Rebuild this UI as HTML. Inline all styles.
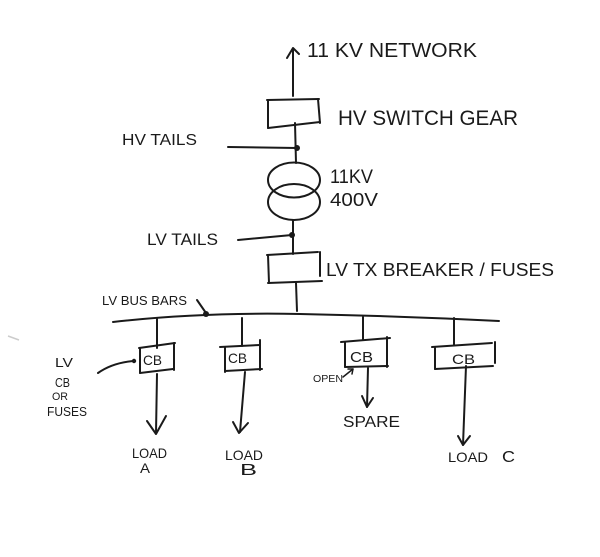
<!DOCTYPE html>
<html><head><meta charset="utf-8"><style>
html,body{margin:0;padding:0;background:#fff;}
svg{display:block;}
text{font-family:"Liberation Sans",sans-serif;fill:#1a1a1a;}
</style></head><body>
<svg width="600" height="557" viewBox="0 0 600 557" xmlns="http://www.w3.org/2000/svg">
<rect width="600" height="557" fill="#fff"/>
<g stroke="#1a1a1a" stroke-width="2" fill="none" stroke-linecap="round" stroke-linejoin="round">
<!-- top arrow -->
<path d="M293,96 L293,49"/>
<path d="M287,58 L293,48 L299,54"/>
<!-- HV switchgear box -->
<path d="M267,100 L319,99"/>
<path d="M268,100 L268,128"/>
<path d="M318,99 L320,123"/>
<path d="M268,128 L320,122"/>
<!-- line down to HV tails dot -->
<path d="M295,123 L296,163"/>
<path d="M228,147 L297,148"/>
<!-- transformer -->
<ellipse cx="294" cy="180" rx="26" ry="17.5"/>
<ellipse cx="294" cy="202" rx="26" ry="18"/>
<!-- line to LV box -->
<path d="M293,220 L293,254"/>
<path d="M238,240 L292,235"/>
<!-- LV TX box -->
<path d="M267,255 L318,252"/>
<path d="M268,255 L269,283"/>
<path d="M320,252 L320,276"/>
<path d="M268,283 L322,281"/>
<path d="M296,283 L297,311"/>
<!-- bus bar -->
<path d="M113,322 Q 200,312 300,314 T 499,321"/>
<path d="M197,300 L206,313"/>
<!-- drops -->
<path d="M157,319 L157,348"/>
<path d="M242,318 L242,346"/>
<path d="M363,317 L363,340"/>
<path d="M454,318 L454,345"/>
<!-- CB A -->
<path d="M139,348 L175,343"/>
<path d="M140,348 L140,373"/>
<path d="M174,343 L174,370"/>
<path d="M140,373 L173,369"/>
<!-- CB B -->
<path d="M220,347 L260,345"/>
<path d="M225,347 L225,372"/>
<path d="M260,340 L260,370"/>
<path d="M225,371 L262,369"/>
<!-- CB spare -->
<path d="M341,342 L390,338"/>
<path d="M345,342 L345,367"/>
<path d="M387,337 L387,367"/>
<path d="M345,367 L388,366"/>
<!-- CB C -->
<path d="M432,347 L492,343"/>
<path d="M435,348 L435,369"/>
<path d="M495,342 L495,363"/>
<path d="M435,369 L493,366"/>
<!-- load arrows -->
<path d="M157,374 L156,433"/>
<path d="M147,421 L156,434 L166,416"/>
<path d="M245,372 L240,432"/>
<path d="M233,422 L239,433 L248,423"/>
<path d="M368,368 L367,407"/>
<path d="M362,396 L367,407 L373,398"/>
<path d="M466,366 L463,445"/>
<path d="M458,436 L463,445 L470,436"/>
<!-- LV CB or fuses pointer -->
<path d="M98,373 Q 112,363 133,361"/>
<!-- open pointer -->
<path d="M343,377 L353,369" stroke-width="1.5"/>
<path d="M348,369 L353,369 L352,374" stroke-width="1.5"/>
</g>
<g fill="#1a1a1a">
<circle cx="297" cy="148" r="3"/>
<circle cx="292" cy="235" r="3"/>
<circle cx="206" cy="314" r="3"/>
<circle cx="134" cy="361" r="2.2"/>
</g>
<path d="M8,336 L19,340" stroke="#ccc" stroke-width="1.5" fill="none"/>
<!-- labels -->
<text x="307" y="57" font-size="20" textLength="170" lengthAdjust="spacingAndGlyphs">11 KV NETWORK</text>
<text x="338" y="125" font-size="21" textLength="180" lengthAdjust="spacingAndGlyphs">HV SWITCH GEAR</text>
<text x="122" y="145" font-size="16" textLength="75" lengthAdjust="spacingAndGlyphs">HV TAILS</text>
<text x="330" y="183" font-size="19" textLength="43" lengthAdjust="spacingAndGlyphs">11KV</text>
<text x="330" y="206" font-size="18" textLength="48" lengthAdjust="spacingAndGlyphs">400V</text>
<text x="147" y="245" font-size="17" textLength="71" lengthAdjust="spacingAndGlyphs">LV TAILS</text>
<text x="326" y="276" font-size="18" textLength="228" lengthAdjust="spacingAndGlyphs">LV TX BREAKER / FUSES</text>
<text x="102" y="305" font-size="13" textLength="85" lengthAdjust="spacingAndGlyphs">LV BUS BARS</text>
<text x="55" y="367" font-size="13" textLength="18" lengthAdjust="spacingAndGlyphs">LV</text>
<text x="55" y="387" font-size="13" textLength="15" lengthAdjust="spacingAndGlyphs">CB</text>
<text x="52" y="400" font-size="11" textLength="16" lengthAdjust="spacingAndGlyphs">OR</text>
<text x="47" y="416" font-size="13" textLength="40" lengthAdjust="spacingAndGlyphs">FUSES</text>
<text x="143" y="365" font-size="14" textLength="19" lengthAdjust="spacingAndGlyphs">CB</text>
<text x="228" y="363" font-size="14" textLength="19" lengthAdjust="spacingAndGlyphs">CB</text>
<text x="350" y="362" font-size="15" textLength="23" lengthAdjust="spacingAndGlyphs">CB</text>
<text x="452" y="364" font-size="14" textLength="23" lengthAdjust="spacingAndGlyphs">CB</text>
<text x="313" y="382" font-size="10" textLength="30" lengthAdjust="spacingAndGlyphs">OPEN</text>
<text x="343" y="427" font-size="16" textLength="57" lengthAdjust="spacingAndGlyphs">SPARE</text>
<text x="132" y="458" font-size="14" textLength="35" lengthAdjust="spacingAndGlyphs">LOAD</text>
<text x="140" y="473" font-size="14" textLength="10" lengthAdjust="spacingAndGlyphs">A</text>
<text x="225" y="460" font-size="14" textLength="38" lengthAdjust="spacingAndGlyphs">LOAD</text>
<text x="240" y="475" font-size="16" textLength="17" lengthAdjust="spacingAndGlyphs">B</text>
<text x="448" y="462" font-size="14" textLength="40" lengthAdjust="spacingAndGlyphs">LOAD</text>
<text x="502" y="462" font-size="16" textLength="13" lengthAdjust="spacingAndGlyphs">C</text>
</svg>
</body></html>
